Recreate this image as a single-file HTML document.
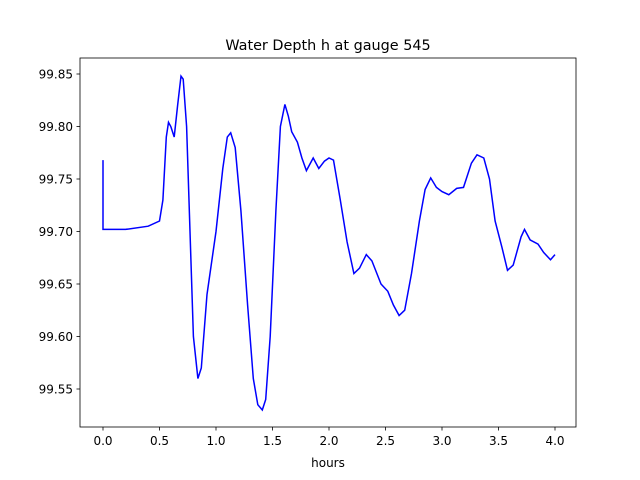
<!DOCTYPE html>
<html><head><meta charset="utf-8"><style>
body{margin:0;background:#fff}
svg{display:block;font-family:"DejaVu Sans","Liberation Sans",sans-serif}
</style></head><body>
<svg id="c" width="640" height="480">
<rect x="0" y="0" width="640" height="480" fill="#fff"/>
<text x="328" y="50" text-anchor="middle" font-size="14.4">Water Depth h at gauge 545</text>
<text x="328" y="467" text-anchor="middle" font-size="12">hours</text>
<g id="ticks"></g>
<path id="line" fill="none" stroke="#0000ff" stroke-width="1.5"/>
<rect x="80" y="58" width="496" height="369" fill="none" stroke="#000" stroke-width="0.8"/>
</svg>
<script>
const xTicks=[0,0.5,1,1.5,2,2.5,3,3.5,4];
const xTickLabels=["0.0","0.5","1.0","1.5","2.0","2.5","3.0","3.5","4.0"];
const yTicks=[99.55,99.6,99.65,99.7,99.75,99.8,99.85];
const yTickLabels=["99.55","99.60","99.65","99.70","99.75","99.80","99.85"];
const hours=[0,0,0.2,0.4,0.5,0.53,0.56,0.58,0.6,0.63,0.66,0.69,0.71,0.74,0.77,0.8,0.84,0.87,0.92,1.0,1.06,1.1,1.13,1.17,1.22,1.28,1.33,1.37,1.41,1.44,1.48,1.53,1.57,1.61,1.64,1.67,1.72,1.76,1.8,1.86,1.91,1.96,2.0,2.04,2.1,2.16,2.22,2.27,2.33,2.38,2.46,2.52,2.57,2.62,2.67,2.73,2.8,2.85,2.9,2.95,3.0,3.06,3.13,3.19,3.26,3.31,3.37,3.42,3.47,3.53,3.58,3.63,3.7,3.73,3.78,3.85,3.9,3.96,4.0];
const depth=[99.768,99.702,99.702,99.705,99.71,99.73,99.79,99.804,99.8,99.79,99.82,99.848,99.845,99.8,99.7,99.6,99.56,99.57,99.64,99.7,99.76,99.79,99.794,99.78,99.72,99.63,99.56,99.535,99.53,99.54,99.6,99.72,99.8,99.821,99.81,99.795,99.785,99.77,99.758,99.77,99.76,99.767,99.77,99.768,99.73,99.69,99.66,99.665,99.678,99.672,99.65,99.643,99.63,99.62,99.625,99.66,99.71,99.74,99.751,99.742,99.738,99.735,99.741,99.742,99.765,99.773,99.77,99.75,99.71,99.685,99.663,99.668,99.695,99.702,99.692,99.688,99.68,99.673,99.678];
const X=h=>103+h*113;
const Y=v=>74+(99.85-v)/0.05*52.5;
const ns="http://www.w3.org/2000/svg";
const g=document.getElementById('ticks');
function mk(t,a){const e=document.createElementNS(ns,t);for(const k in a)e.setAttribute(k,a[k]);g.appendChild(e);return e;}
xTicks.forEach((t,i)=>{
 const l=mk('line',{x1:X(t),x2:X(t),y1:427,y2:430.5,stroke:'#000','stroke-width':0.8});
 
 
 const tx=mk('text',{x:X(t),y:445,'text-anchor':'middle','font-size':12});
 tx.textContent=xTickLabels[i];
 
 
});
yTicks.forEach((t,i)=>{
 const l=mk('line',{x1:76.5,x2:80,y1:Y(t),y2:Y(t),stroke:'#000','stroke-width':0.8});
 
 
 const tx=mk('text',{x:73,y:Y(t)+4.5,'text-anchor':'end','font-size':12});
 tx.textContent=yTickLabels[i];
 
 
});
document.getElementById('line').setAttribute('d',hours.map((h,i)=>(i?'L':'M')+X(h).toFixed(1)+' '+Y(depth[i]).toFixed(1)).join(' '));
</script>
</body></html>
